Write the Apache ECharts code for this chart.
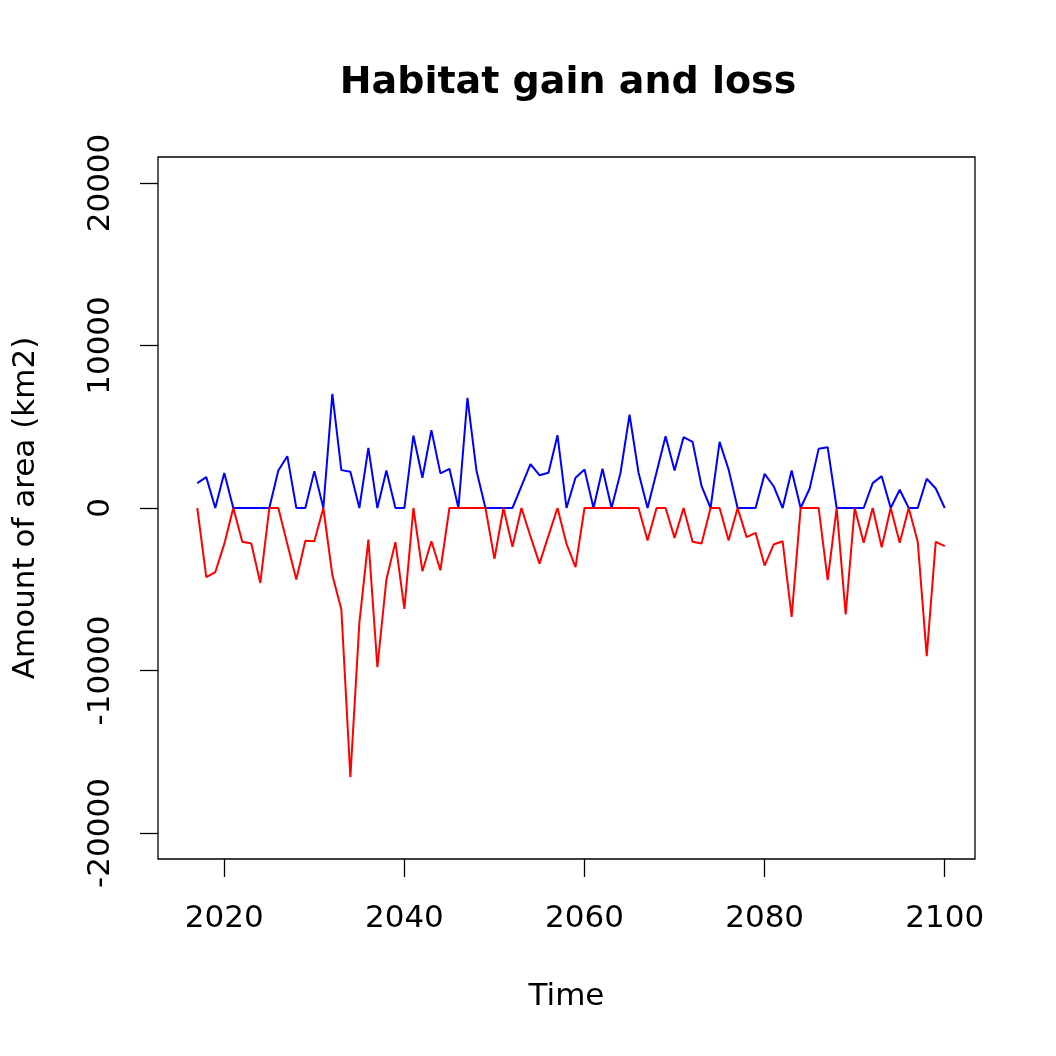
<!DOCTYPE html>
<html>
<head>
<meta charset="utf-8">
<script src="https://cdn.jsdelivr.net/npm/echarts@6/dist/echarts.min.js"></script>
<style>
html,body{margin:0;padding:0;background:#fff;}
#chart{width:1056px;height:1056px;}
</style>
</head>
<body>
<div id="chart"></div>
<script>
const startYear = 2017;
const gain = [1530,1900,0,2160,0,0,0,0,0,2310,3190,0,0,2270,0,7020,2330,2230,0,3700,0,2310,0,0,4460,1860,4790,2130,2410,0,6780,2310,0,0,0,0,1350,2700,2020,2170,4480,0,1860,2370,0,2410,0,2170,5750,2170,0,2200,4420,2310,4360,4070,1340,0,4070,2370,0,0,0,2100,1340,0,2310,0,1200,3640,3740,0,0,0,0,1530,1960,0,1120,0,0,1800,1200,0];
const loss = [0,-4260,-3950,-2210,0,-2080,-2190,-4610,0,0,-2210,-4400,-2020,-2050,0,-4130,-6250,-16560,-7070,-1940,-9800,-4400,-2100,-6210,0,-3890,-2050,-3830,0,0,0,0,0,-3130,0,-2390,0,-1750,-3420,-1700,0,-2200,-3640,0,0,0,0,0,0,0,-2000,0,0,-1840,0,-2080,-2190,0,0,-2000,0,-1790,-1530,-3540,-2250,-2050,-6700,0,0,0,-4440,0,-6550,0,-2140,0,-2410,0,-2140,0,-2080,-9120,-2080,-2350];
const xTicks = [2020,2040,2060,2080,2100];
const yTicks = [-20000,-10000,0,10000,20000];

const gainData = gain.map((v,i)=>[startYear+i, v]);
const lossData = loss.map((v,i)=>[startYear+i, v]);

const chart = echarts.init(document.getElementById('chart'));
const font = 'DejaVu Sans';
chart.setOption({
  animation:false,
  backgroundColor:'#ffffff',
  title:{
    text:'Habitat gain and loss',
    left:563, top:78, textAlign:'center', textVerticalAlign:'middle',
    textStyle:{fontFamily:font,fontWeight:'bold',fontSize:38,color:'#000'}
  },
  grid:{left:158,right:81,top:157,bottom:197,show:true,borderColor:'#000',borderWidth:1.3,backgroundColor:'transparent'},
  xAxis:{
    type:'value', min:2012.64, max:2103.36,
    name:'Time', nameLocation:'middle', nameGap:122,
    nameTextStyle:{fontFamily:font,fontSize:31,color:'#000'},
    axisLine:{show:false,onZero:false},
    axisTick:{show:true,inside:false,length:18,customValues:xTicks,lineStyle:{color:'#000',width:1.3}},
    axisLabel:{customValues:xTicks,fontFamily:font,fontSize:31,color:'#000',margin:44,formatter:v=>String(v)},
    splitLine:{show:false}
  },
  yAxis:{
    type:'value', min:-21600, max:21600,
    name:'Amount of area (km2)', nameLocation:'middle', nameGap:117, nameRotate:90,
    nameTextStyle:{fontFamily:font,fontSize:31,color:'#000'},
    axisLine:{show:false,onZero:false},
    axisTick:{show:true,inside:false,length:18,customValues:yTicks,lineStyle:{color:'#000',width:1.3}},
    axisLabel:{customValues:yTicks,rotate:90,fontFamily:font,fontSize:31,color:'#000',margin:42,align:'center',verticalAlign:'bottom',formatter:v=>String(v)},
    splitLine:{show:false}
  },
  series:[
    {type:'line',data:gainData,symbol:'none',lineStyle:{color:'#0000ff',width:2},itemStyle:{color:'#0000ff'}},
    {type:'line',data:lossData,symbol:'none',lineStyle:{color:'#ff0000',width:2},itemStyle:{color:'#ff0000'}}
  ]
});
</script>
</body>
</html>
